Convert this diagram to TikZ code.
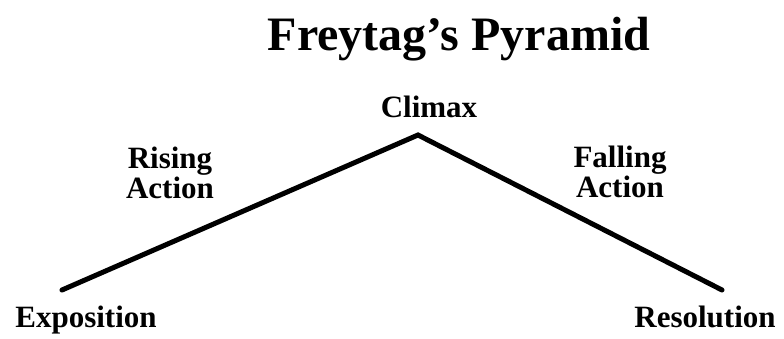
\documentclass[tikz,border=0pt]{standalone}
\usepackage{fontspec}
\setmainfont{Liberation Serif}
\usetikzlibrary{positioning}
\tikzset{
  every picture/.style={x=1pt, y=-1pt},
  title/.style={font=\fontsize{48}{52}\selectfont\bfseries, anchor=base, inner sep=0pt},
  stage/.style={font=\fontsize{31}{30}\selectfont\bfseries, anchor=base, align=center, inner sep=0pt},
  plotline/.style={line width=5pt, line cap=round, line join=miter},
}

\begin{document}
\begin{tikzpicture}
  \useasboundingbox (0,0) rectangle (784,338);
  % title
  \node[title] (head) at (459,50) {Freytag’s Pyramid};
  % the three turning points
  \coordinate (start) at (62,290);
  \coordinate (peak) at (418,135);
  \coordinate (finish) at (722,290);
  \draw[plotline] (start) -- (peak) -- (finish);
  % labels (base = last line)
  \node[stage] (climax) at (429,117) {Climax};
  \node[stage] (rising) at (170,198) {Rising\\Action};
  \node[stage] (falling) at (620,197) {Falling\\Action};
  \node[stage] (expo) at (86,327) {Exposition};
  \node[stage] (resol) at (705,327) {Resolution};
\end{tikzpicture}
\end{document}
